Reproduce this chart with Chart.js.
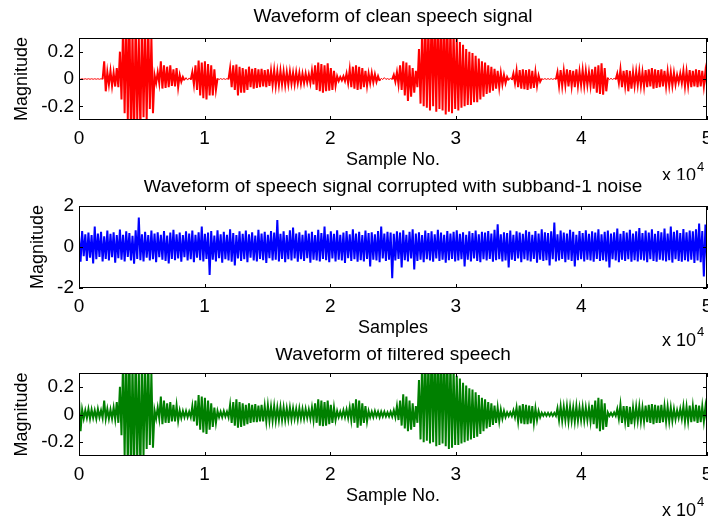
<!DOCTYPE html>
<html>
<head>
<meta charset="utf-8">
<script src="https://cdn.jsdelivr.net/npm/chart.js@4/dist/chart.umd.min.js"></script>
<style>
  html, body { margin: 0; padding: 0; background: #fff; }
  .panel { position: absolute; left: 0; }
</style>
</head>
<body>
<canvas id="clean" class="panel" width="708" height="180" style="top:0px"></canvas>
<canvas id="noisy" class="panel" width="708" height="168" style="top:180px"></canvas>
<canvas id="filtered" class="panel" width="708" height="170" style="top:348px"></canvas>
<script>
// Number of samples in each recording (x axis runs 0 .. 5 x 10^4)
const SAMPLE_COUNT = 50000;

// Sample-axis ticks and the magnitude ticks of each panel
const sampleTicks = [0, 10000, 20000, 30000, 40000, 50000];
const speechTicks = [-0.2, 0, 0.2];
const noiseTicks = [-2, 0, 2];

// Waveform peaks per block of 250 samples: positive peak, negative peak
const cleanSpeech = [
  0.002,-0.002, 0.002,-0.002, 0.002,-0.002, 0.002,-0.002, 0.002,-0.002, 0.002,-0.002, 0.002,-0.002, 0.002,-0.002, 0.13,-0.09, 0.05,-0.04,
  0.06,-0.05, 0.045,-0.055, 0.08,-0.06, 0.20,-0.15, 0.38,-0.25, 0.45,-0.30, 0.50,-0.42, 0.35,-0.45, 0.45,-0.30, 0.30,-0.38,
  0.42,-0.28, 0.38,-0.30, 0.40,-0.22, 0.30,-0.25, 0.03,-0.03, 0.05,-0.03, 0.13,-0.07, 0.10,-0.065, 0.09,-0.06, 0.10,-0.05,
  0.07,-0.055, 0.08,-0.06, 0.03,-0.02, 0.015,-0.01, 0.01,-0.008, 0.008,-0.006, 0.05,-0.04, 0.10,-0.08, 0.135,-0.12, 0.12,-0.14,
  0.13,-0.15, 0.11,-0.12, 0.10,-0.12, 0.07,-0.08, 0.004,-0.004, 0.003,-0.003, 0.003,-0.003, 0.003,-0.003, 0.08,-0.06, 0.10,-0.08,
  0.105,-0.12, 0.09,-0.10, 0.08,-0.10, 0.07,-0.08, 0.09,-0.06, 0.075,-0.07, 0.08,-0.065, 0.07,-0.06, 0.075,-0.055, 0.065,-0.06,
  0.07,-0.05, 0.06,-0.045, 0.065,-0.05, 0.055,-0.045, 0.06,-0.04, 0.055,-0.045, 0.05,-0.04, 0.055,-0.035, 0.045,-0.04, 0.05,-0.03,
  0.045,-0.035, 0.04,-0.03, 0.04,-0.025, 0.035,-0.03, 0.06,-0.04, 0.10,-0.08, 0.12,-0.09, 0.11,-0.10, 0.10,-0.09, 0.115,-0.085,
  0.08,-0.08, 0.06,-0.05, 0.02,-0.015, 0.015,-0.01, 0.02,-0.015, 0.04,-0.03, 0.07,-0.06, 0.09,-0.07, 0.10,-0.08, 0.09,-0.075,
  0.08,-0.06, 0.06,-0.05, 0.04,-0.03, 0.045,-0.025, 0.035,-0.02, 0.02,-0.015, 0.005,-0.004, 0.01,-0.003, 0.003,-0.003, 0.003,-0.003,
  0.03,-0.02, 0.05,-0.04, 0.10,-0.08, 0.13,-0.12, 0.12,-0.16, 0.10,-0.13, 0.08,-0.10, 0.06,-0.06, 0.22,-0.18, 0.35,-0.20,
  0.45,-0.21, 0.40,-0.23, 0.50,-0.20, 0.45,-0.24, 0.50,-0.22, 0.42,-0.23, 0.48,-0.26, 0.45,-0.24, 0.40,-0.25, 0.35,-0.22,
  0.30,-0.23, 0.27,-0.21, 0.25,-0.20, 0.22,-0.19, 0.20,-0.19, 0.19,-0.17, 0.17,-0.17, 0.15,-0.15, 0.13,-0.13, 0.12,-0.11,
  0.10,-0.10, 0.09,-0.085, 0.075,-0.07, 0.06,-0.06, 0.045,-0.04, 0.03,-0.03, 0.015,-0.01, 0.01,-0.008, 0.04,-0.03, 0.06,-0.06,
  0.065,-0.07, 0.07,-0.075, 0.065,-0.08, 0.07,-0.07, 0.06,-0.065, 0.05,-0.05, 0.025,-0.02, 0.003,-0.003, 0.003,-0.003, 0.003,-0.003,
  0.003,-0.003, 0.003,-0.003, 0.05,-0.05, 0.065,-0.05, 0.06,-0.045, 0.07,-0.055, 0.065,-0.05, 0.06,-0.06, 0.07,-0.05, 0.055,-0.045,
  0.065,-0.05, 0.06,-0.045, 0.05,-0.05, 0.07,-0.07, 0.09,-0.10, 0.10,-0.11, 0.115,-0.115, 0.08,-0.09, 0.01,-0.005, 0.005,-0.004,
  0.005,-0.004, 0.04,-0.03, 0.07,-0.06, 0.06,-0.05, 0.065,-0.09, 0.06,-0.07, 0.05,-0.05, 0.055,-0.045, 0.06,-0.05, 0.05,-0.055,
  0.065,-0.06, 0.07,-0.055, 0.08,-0.07, 0.07,-0.065, 0.065,-0.06, 0.07,-0.055, 0.06,-0.055, 0.055,-0.05, 0.05,-0.05, 0.045,-0.04,
  0.03,-0.025, 0.04,-0.03, 0.06,-0.055, 0.055,-0.05, 0.065,-0.06, 0.06,-0.055, 0.07,-0.06, 0.065,-0.055, 0.06,-0.055, 0.055,-0.05
];

const noisySpeech = [
  0.55,-0.72, 0.78,-0.45, 0.62,-0.68, 0.70,-0.52, 0.58,-0.80, 1.00,-0.60, 0.66,-0.48, 0.74,-0.70, 0.52,-0.58, 0.80,-0.66,
  0.64,-0.50, 0.72,-0.76, 0.58,-0.55, 0.85,-0.62, 0.60,-0.70, 0.76,-0.48, 0.68,-0.66, 0.55,-0.82, 0.82,-0.58, 1.44,-0.64,
  0.62,-0.70, 0.74,-0.52, 0.58,-0.66, 0.80,-0.60, 0.66,-0.74, 0.72,-0.50, 0.60,-0.62, 0.78,-0.68, 0.56,-0.80, 0.70,-0.58,
  0.84,-0.64, 0.62,-0.56, 0.70,-0.72, 0.58,-0.50, 0.76,-0.66, 0.66,-0.60, 0.80,-0.74, 0.60,-0.52, 0.72,-0.64, 1.00,-0.70,
  0.64,-0.58, 0.70,-1.36, 0.78,-0.62, 0.56,-0.70, 0.82,-0.54, 0.62,-0.76, 0.74,-0.60, 0.60,-0.66, 0.86,-0.72, 0.68,-0.90,
  0.58,-0.56, 0.76,-0.68, 0.64,-0.60, 0.80,-0.74, 0.62,-0.52, 0.72,-0.66, 0.56,-0.70, 0.84,-0.58, 0.66,-0.64, 0.74,-0.78,
  0.60,-0.54, 0.78,-0.66, 0.70,-0.62, 1.31,-0.70, 0.64,-0.58, 0.76,-0.74, 0.58,-0.60, 0.82,-0.66, 0.95,-0.56, 0.66,-0.72,
  0.72,-0.60, 0.60,-0.68, 0.80,-0.54, 0.66,-0.76, 0.74,-0.62, 0.58,-0.66, 0.84,-0.70, 0.68,-0.58, 1.00,-0.64, 0.62,-0.74,
  0.76,-0.56, 0.64,-0.70, 0.82,-0.62, 0.60,-0.66, 0.70,-0.78, 0.78,-0.54, 0.62,-0.68, 0.86,-0.60, 0.66,-0.72, 0.74,-0.64,
  0.58,-0.70, 0.80,-0.58, 0.68,-0.95, 0.72,-0.62, 0.62,-0.66, 0.78,-0.74, 1.00,-0.56, 0.66,-0.68, 0.74,-0.62, 0.70,-1.52,
  0.64,-0.66, 0.76,-0.58, 0.70,-1.00, 0.82,-0.64, 0.60,-0.70, 0.74,-0.56, 0.86,-1.10, 0.66,-0.68, 0.72,-0.62, 0.58,-0.74,
  0.80,-0.60, 0.68,-0.66, 0.76,-0.72, 0.62,-0.56, 0.84,-0.68, 0.70,-0.62, 0.60,-0.76, 0.78,-0.64, 0.66,-0.58, 0.74,-0.70,
  0.82,-0.66, 0.64,-0.60, 0.72,-0.95, 0.60,-0.62, 0.76,-0.70, 0.68,-0.56, 0.80,-0.68, 0.62,-0.74, 0.74,-0.60, 0.70,-0.66,
  0.78,-0.58, 0.66,-0.72, 0.84,-0.64, 1.11,-0.60, 0.62,-0.70, 0.72,-0.66, 0.68,-1.00, 0.80,-0.62, 0.60,-0.68, 0.76,-0.56,
  0.70,-0.74, 0.64,-0.60, 0.82,-0.66, 0.74,-0.70, 0.60,-0.58, 0.78,-0.76, 0.66,-0.62, 0.86,-0.68, 0.72,-0.64, 0.68,-0.90,
  0.76,-0.60, 1.19,-0.70, 0.62,-0.66, 0.80,-0.58, 0.70,-0.74, 0.66,-0.62, 0.84,-0.68, 0.74,-0.95, 0.60,-0.64, 0.78,-0.60,
  0.68,-0.70, 0.82,-0.62, 0.64,-0.66, 0.76,-0.72, 0.70,-0.58, 0.86,-0.68, 0.62,-0.64, 0.74,-0.70, 0.80,-1.00, 0.66,-0.60,
  0.72,-0.66, 0.90,-0.74, 0.64,-0.62, 0.78,-0.68, 0.70,-0.60, 0.84,-0.72, 0.66,-0.64, 0.76,-0.70, 0.92,-0.62, 0.68,-0.66,
  0.80,-0.74, 0.70,-0.60, 0.86,-0.68, 0.64,-0.72, 0.78,-0.62, 0.72,-0.66, 0.90,-0.70, 0.66,-0.64, 1.00,-0.76, 0.74,-0.60,
  0.82,-0.68, 0.68,-0.72, 0.88,-0.64, 0.72,-0.70, 0.80,-0.62, 0.76,-0.78, 0.86,-0.66, 1.15,-0.74, 0.78,-1.44, 1.10,-0.70
];

const filteredSpeech = [
  0.11,-0.12, 0.035,-0.03, 0.03,-0.025, 0.04,-0.03, 0.035,-0.025, 0.03,-0.03, 0.04,-0.02, 0.03,-0.025, 0.10,-0.03, 0.04,-0.03,
  0.035,-0.03, 0.05,-0.035, 0.09,-0.06, 0.20,-0.15, 0.40,-0.30, 0.45,-0.38, 0.50,-0.45, 0.38,-0.40, 0.45,-0.35, 0.32,-0.42,
  0.42,-0.30, 0.36,-0.25, 0.40,-0.22, 0.30,-0.24, 0.03,-0.03, 0.05,-0.03, 0.13,-0.07, 0.10,-0.06, 0.08,-0.06, 0.09,-0.05,
  0.07,-0.05, 0.065,-0.045, 0.03,-0.025, 0.025,-0.02, 0.025,-0.02, 0.02,-0.02, 0.06,-0.05, 0.10,-0.08, 0.14,-0.11, 0.13,-0.13,
  0.12,-0.14, 0.10,-0.11, 0.08,-0.09, 0.05,-0.06, 0.025,-0.02, 0.02,-0.02, 0.025,-0.015, 0.02,-0.02, 0.07,-0.06, 0.09,-0.08,
  0.11,-0.095, 0.09,-0.09, 0.08,-0.08, 0.07,-0.07, 0.08,-0.06, 0.07,-0.055, 0.075,-0.055, 0.065,-0.05, 0.07,-0.05, 0.06,-0.05,
  0.065,-0.045, 0.055,-0.045, 0.06,-0.045, 0.05,-0.04, 0.055,-0.04, 0.05,-0.04, 0.045,-0.035, 0.05,-0.035, 0.045,-0.03, 0.04,-0.035,
  0.045,-0.03, 0.04,-0.03, 0.04,-0.025, 0.035,-0.03, 0.05,-0.04, 0.08,-0.06, 0.11,-0.08, 0.10,-0.085, 0.09,-0.08, 0.10,-0.07,
  0.07,-0.06, 0.05,-0.04, 0.025,-0.02, 0.02,-0.02, 0.03,-0.02, 0.035,-0.025, 0.05,-0.04, 0.08,-0.06, 0.11,-0.095, 0.10,-0.08,
  0.08,-0.06, 0.06,-0.05, 0.025,-0.02, 0.02,-0.02, 0.025,-0.015, 0.02,-0.02, 0.02,-0.015, 0.02,-0.015, 0.015,-0.015, 0.02,-0.015,
  0.03,-0.02, 0.06,-0.04, 0.10,-0.08, 0.146,-0.10, 0.13,-0.12, 0.10,-0.11, 0.08,-0.09, 0.06,-0.06, 0.25,-0.18, 0.38,-0.20,
  0.45,-0.19, 0.40,-0.21, 0.50,-0.20, 0.45,-0.23, 0.50,-0.22, 0.44,-0.21, 0.48,-0.23, 0.45,-0.25, 0.40,-0.24, 0.34,-0.22,
  0.28,-0.22, 0.26,-0.21, 0.23,-0.20, 0.21,-0.19, 0.19,-0.18, 0.18,-0.17, 0.16,-0.16, 0.14,-0.14, 0.12,-0.12, 0.11,-0.10,
  0.09,-0.09, 0.08,-0.075, 0.065,-0.06, 0.05,-0.05, 0.035,-0.03, 0.025,-0.02, 0.015,-0.012, 0.015,-0.012, 0.03,-0.02, 0.05,-0.05,
  0.065,-0.065, 0.075,-0.07, 0.07,-0.07, 0.065,-0.065, 0.06,-0.06, 0.045,-0.04, 0.025,-0.02, 0.012,-0.01, 0.012,-0.01, 0.012,-0.01,
  0.012,-0.01, 0.012,-0.01, 0.045,-0.04, 0.06,-0.045, 0.055,-0.04, 0.06,-0.05, 0.055,-0.045, 0.05,-0.05, 0.06,-0.045, 0.05,-0.04,
  0.055,-0.045, 0.05,-0.04, 0.05,-0.05, 0.07,-0.07, 0.10,-0.10, 0.12,-0.12, 0.11,-0.11, 0.08,-0.09, 0.015,-0.01, 0.012,-0.01,
  0.015,-0.01, 0.04,-0.03, 0.07,-0.06, 0.06,-0.05, 0.06,-0.09, 0.055,-0.07, 0.05,-0.05, 0.055,-0.045, 0.06,-0.05, 0.05,-0.05,
  0.065,-0.055, 0.07,-0.06, 0.075,-0.07, 0.07,-0.06, 0.065,-0.06, 0.07,-0.055, 0.06,-0.05, 0.055,-0.05, 0.05,-0.045, 0.04,-0.035,
  0.03,-0.025, 0.04,-0.03, 0.06,-0.05, 0.055,-0.05, 0.065,-0.055, 0.06,-0.05, 0.07,-0.06, 0.065,-0.055, 0.06,-0.05, 0.055,-0.05
];

const FONT = "'Liberation Sans', Arial, Helvetica, sans-serif";
Chart.defaults.font.family = FONT;
Chart.defaults.font.size = 19;
Chart.defaults.color = '#000';

// Peaks are evenly spread over the recording and joined in order (up, down, up, ...)
function toPoints(values) {
  const step = SAMPLE_COUNT / (values.length - 1);
  return values.map((v, i) => ({ x: i * step, y: v }));
}

// Box around the axes with inward tick marks on all four sides
const axesBox = {
  id: 'axesBox',
  afterDatasetsDraw(chart) {
    const { ctx, chartArea: a, scales: { x, y } } = chart;
    ctx.save();
    ctx.strokeStyle = '#000';
    ctx.lineWidth = 1;
    ctx.beginPath();
    x.ticks.forEach(t => {
      const px = Math.round(x.getPixelForValue(t.value)) + 0.5;
      ctx.moveTo(px, a.top); ctx.lineTo(px, a.top + 4);
      ctx.moveTo(px, a.bottom); ctx.lineTo(px, a.bottom - 4);
    });
    y.ticks.forEach(t => {
      const py = Math.round(y.getPixelForValue(t.value)) + 0.5;
      ctx.moveTo(a.left, py); ctx.lineTo(a.left + 4, py);
      ctx.moveTo(a.right, py); ctx.lineTo(a.right - 4, py);
    });
    ctx.stroke();
    ctx.strokeRect(a.left + 0.5, a.top + 0.5, a.right - a.left - 1, a.bottom - a.top - 1);
    ctx.restore();
  }
};

// Panel title, axis labels and the x 10^4 multiplier
const panelText = {
  id: 'panelText',
  afterDraw(chart, args, o) {
    const { ctx, chartArea: a } = chart;
    const cx = (a.left + a.right) / 2;
    ctx.save();
    ctx.fillStyle = '#000';
    ctx.textAlign = 'center';
    ctx.textBaseline = 'middle';
    ctx.font = '19px ' + FONT;
    ctx.fillText(o.title, cx, a.top - o.titleGap);
    ctx.font = '18px ' + FONT;
    ctx.fillText(o.xLabel, cx, a.bottom + o.xLabelGap);
    ctx.save();
    ctx.translate(o.yLabelX, (a.top + a.bottom) / 2);
    ctx.rotate(-Math.PI / 2);
    ctx.fillText('Magnitude', 0, 0);
    ctx.restore();
    ctx.textAlign = 'left';
    const ey = a.bottom + o.expGap;
    ctx.fillText('x 10', o.expX, ey);
    const w = ctx.measureText('x 10').width;
    ctx.font = '13px ' + FONT;
    ctx.fillText('4', o.expX + w + 1, ey - 9);
    ctx.restore();
  }
};

function makePanel(id, p) {
  return new Chart(document.getElementById(id), {
    type: 'line',
    data: {
      datasets: [{
        data: toPoints(p.values),
        borderColor: p.color,
        borderWidth: 2,
        borderJoinStyle: 'miter',
        pointRadius: 0,
        fill: false,
        tension: 0,
        // quiet stretches stay a hairline, oscillating stretches get a heavier stroke
        segment: { borderWidth: c => Math.abs(c.p0.y - c.p1.y) < 3 ? 1 : 2 }
      }]
    },
    options: {
      responsive: false,
      animation: false,
      devicePixelRatio: 1,
      events: [],
      layout: { padding: { top: p.top, right: 1, left: 0, bottom: 0 } },
      plugins: {
        legend: { display: false },
        tooltip: { enabled: false },
        panelText: p.text
      },
      scales: {
        x: {
          type: 'linear',
          min: 0,
          max: SAMPLE_COUNT,
          grid: { display: false, drawTicks: false },
          border: { display: false },
          afterBuildTicks: s => { s.ticks = sampleTicks.map(v => ({ value: v })); },
          ticks: { padding: 7, maxRotation: 0, autoSkip: false, callback: v => String(v / 10000) },
          afterFit: s => { s.height = p.xSpace; s.paddingLeft = 0; s.paddingRight = 0; }
        },
        y: {
          type: 'linear',
          min: p.yMin,
          max: p.yMax,
          grid: { display: false, drawTicks: false },
          border: { display: false },
          afterBuildTicks: s => { s.ticks = p.yTicks.map(v => ({ value: v })); },
          ticks: { padding: 5, autoSkip: false, callback: v => String(v) },
          afterFit: s => { s.width = 79; s.paddingTop = 0; s.paddingBottom = 0; }
        }
      }
    },
    plugins: [axesBox, panelText]
  });
}

makePanel('clean', {
  values: cleanSpeech, color: '#ff0000', yTicks: speechTicks, yMin: -0.3, yMax: 0.3,
  top: 38, xSpace: 60,
  text: { title: 'Waveform of clean speech signal', xLabel: 'Sample No.', titleGap: 21, xLabelGap: 40, yLabelX: 22, expX: 662, expGap: 56 }
});

makePanel('noisy', {
  values: noisySpeech, color: '#0000ff', yTicks: noiseTicks, yMin: -2, yMax: 2,
  top: 26, xSpace: 60,
  text: { title: 'Waveform of speech signal corrupted with subband-1 noise', xLabel: 'Samples', titleGap: 19, xLabelGap: 40, yLabelX: 38, expX: 662, expGap: 53 }
});

makePanel('filtered', {
  values: filteredSpeech, color: '#008000', yTicks: speechTicks, yMin: -0.3, yMax: 0.3,
  top: 25, xSpace: 62,
  text: { title: 'Waveform of filtered speech', xLabel: 'Sample No.', titleGap: 18, xLabelGap: 40, yLabelX: 22, expX: 662, expGap: 55 }
});
</script>
</body>
</html>
